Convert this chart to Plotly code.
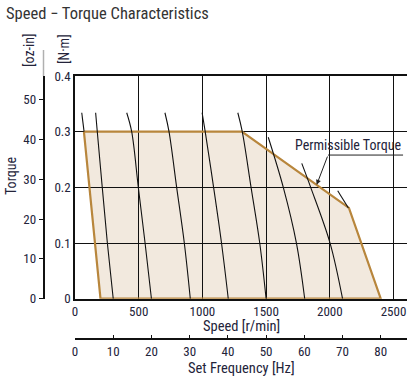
import plotly.graph_objects as go

# ---------------- data ----------------
speed_ticks = [0, 500, 1000, 1500, 2000, 2500]
torque_ticks = [0, 0.1, 0.2, 0.3, 0.4]
ozin_ticks = [0, 10, 20, 30, 40, 50]
freq_ticks = [0, 10, 20, 30, 40, 50, 60, 70, 80]

# permissible torque boundary (speed r/min, torque N·m)
perm_speed = [70, 1310, 2150, 2400, 200, 70]
perm_torque = [0.30, 0.30, 0.163, 0.0, 0.0, 0.30]

# speed-torque curves at each set frequency
curves = [
    ([53, 71], [0.334, 0.30]),
    ([162, 175, 214, 254, 300], [0.334, 0.30, 0.20, 0.10, 0.0]),
    ([406, 445, 497, 550, 600], [0.334, 0.30, 0.20, 0.10, 0.0]),
    ([706, 738, 798, 858, 905], [0.334, 0.30, 0.20, 0.10, 0.0]),
    ([998, 1022, 1088, 1150, 1203], [0.334, 0.30, 0.20, 0.10, 0.0]),
    ([1278, 1313, 1382, 1450, 1500], [0.334, 0.30, 0.20, 0.10, 0.0]),
    ([1517, 1635, 1738, 1803], [0.290, 0.20, 0.10, 0.0]),
    ([1780, 1850, 2002, 2100], [0.243, 0.20, 0.10, 0.0]),
    ([2062, 2146], [0.194, 0.163]),
]

# annotation anchor points
arrow_tip = (1897, 0.2045)
arrow_tail = (1986, 0.258)
label_end = 2575

SPEED_MAX = 2606
OZ_MAX = 56.0
HZ_PER_RPM = 1 / 30

W, H = 414, 381
FONT = "Roboto Condensed, Liberation Sans Narrow, DejaVu Sans Condensed, sans-serif"
TXT = "#23233a"
BROWN = "#b8863c"
FILL = "#f2e9de"
TICK = 13

x0, x1 = 75, 407
ytop, ybot = 76, 298.7

def px(x):
    return x / W

def py(y):
    return 1 - y / H

fig = go.Figure()

fig.add_trace(go.Scatter(x=perm_speed, y=perm_torque, mode="lines",
                         line=dict(color=BROWN, width=2.2), hoverinfo="skip",
                         showlegend=False))
for sx, ty in curves:
    fig.add_trace(go.Scatter(x=sx, y=ty, mode="lines",
                             line=dict(color="#111111", width=1.1, shape="spline"),
                             hoverinfo="skip", showlegend=False))

fig.add_trace(go.Scatter(x=[0], y=[0], xaxis="x2", yaxis="y", mode="markers",
                         marker=dict(opacity=0), hoverinfo="skip", showlegend=False))
fig.add_trace(go.Scatter(x=[0], y=[0], xaxis="x", yaxis="y2", mode="markers",
                         marker=dict(opacity=0), hoverinfo="skip", showlegend=False))

path = "M " + " L ".join(f"{s},{t}" for s, t in zip(perm_speed, perm_torque)) + " Z"
shapes = [
    dict(type="path", path=path, xref="x", yref="y", fillcolor=FILL,
         line=dict(width=0), layer="below"),
    dict(type="line", xref="x", yref="y", x0=arrow_tail[0], x1=label_end,
         y0=arrow_tail[1], y1=arrow_tail[1], line=dict(color="#222", width=1)),
    dict(type="line", xref="paper", yref="paper", x0=px(43.5), x1=px(43.5),
         y0=py(50), y1=py(ytop), line=dict(color="#b0b0b0", width=1.5)),
]

def ann(text, x, y, size, angle=0, color=TXT):
    return dict(text=text, x=px(x), y=py(y), xref="paper", yref="paper",
                xanchor="center", yanchor="middle", showarrow=False, textangle=angle,
                font=dict(size=size, color=color, family=FONT))

annotations = [
    dict(text="Speed − Torque Characteristics", x=px(4), y=py(13), xref="paper",
         yref="paper", xanchor="left", yanchor="middle", showarrow=False,
         font=dict(size=16.5, color="#333333", family=FONT)),
    ann("Speed [r/min]", 241, 326, 14.5),
    ann("Set Frequency [Hz]", 241, 368, 14.5),
    ann("Torque", 11, 176, 14, -90),
    ann("[oz-in]", 29, 50, 14, -90),
    ann("[N·m]", 64, 49, 14, -90),
    dict(text="Permissible Torque", x=label_end, y=arrow_tail[1], xref="x", yref="y",
         xanchor="right", yanchor="bottom", showarrow=False, yshift=0,
         font=dict(size=14, color=TXT, family=FONT)),
    dict(text="", x=arrow_tip[0], y=arrow_tip[1], ax=arrow_tail[0], ay=arrow_tail[1],
         xref="x", yref="y", axref="x", ayref="y", showarrow=True, arrowhead=2,
         arrowsize=1, arrowwidth=1, arrowcolor="#222"),
]

common = dict(zeroline=False, fixedrange=True, automargin=False,
              tickfont=dict(size=TICK, color=TXT, family=FONT))

fig.update_layout(
    width=W, height=H, margin=dict(l=0, r=0, t=0, b=0, pad=0, autoexpand=False),
    paper_bgcolor="white", plot_bgcolor="white",
    font=dict(family=FONT, size=TICK, color=TXT),
    xaxis=dict(domain=[px(x0), px(x1)], range=[0, SPEED_MAX], tickvals=speed_ticks,
               showgrid=True, gridcolor="#111", gridwidth=1.3,
               showline=True, linecolor="#111", linewidth=1.5, mirror=True,
               ticks="", **common),
    yaxis=dict(domain=[py(ybot), py(ytop)], range=[0, 0.4], tickvals=torque_ticks,
               ticktext=["0", "0.1", "0.2", "0.3", "0.4"],
               showgrid=True, gridcolor="#111", gridwidth=1.3,
               showline=True, linecolor="#111", linewidth=1.5, ticks="", **common),
    xaxis2=dict(overlaying="x", anchor="free", position=py(339.3), side="bottom",
                range=[0, SPEED_MAX * HZ_PER_RPM], tickvals=freq_ticks,
                showgrid=False, showline=True, linecolor="#111",
                linewidth=1.5, ticks="inside", ticklen=4, tickcolor="#111",
                tickwidth=1.3, **common),
    yaxis2=dict(overlaying="y", anchor="free", position=px(43.5), side="left",
                range=[0, OZ_MAX], tickvals=ozin_ticks, showgrid=False,
                showline=True, linecolor="#111", linewidth=1.5,
                ticks="outside", ticklen=4, tickcolor="#111", tickwidth=1.3,
                **common),
    shapes=shapes, annotations=annotations, showlegend=False,
)

# remove the default 8px page margin so the figure sits at the window origin
fig.write_html("out.html", config={"displayModeBar": False},
               post_script="document.body.style.margin='0';document.body.style.padding='0';")
